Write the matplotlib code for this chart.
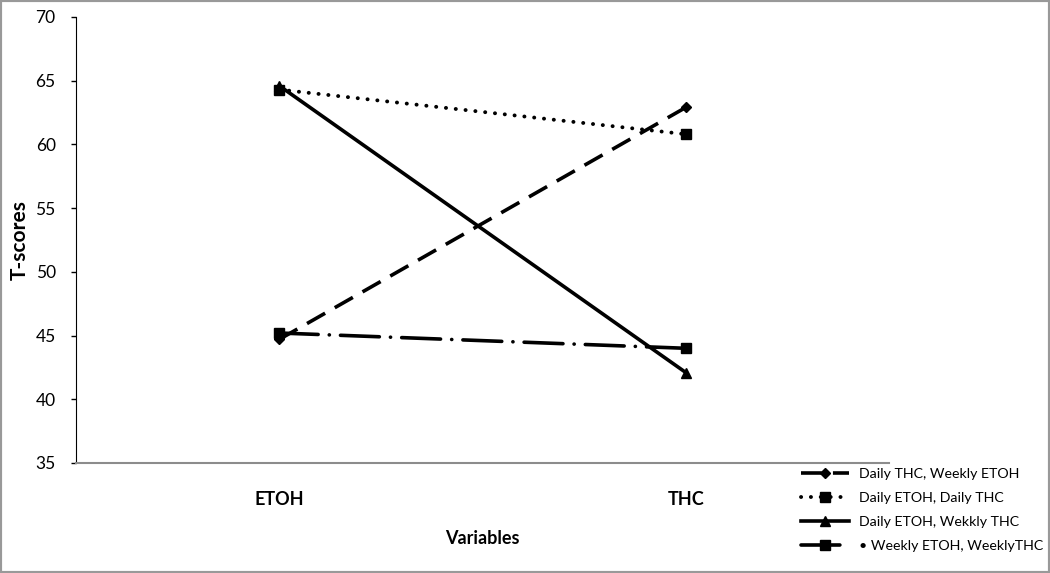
import numpy as np
import matplotlib.pyplot as plt
from matplotlib.patches import Rectangle

plt.rcParams['font.family'] = ['Lato', 'DejaVu Sans']
plt.rcParams['lines.scale_dashes'] = False

categories = ["ETOH", "THC"]
series_names = ["Daily THC, Weekly ETOH", "Daily ETOH, Daily THC",
                "Daily ETOH, Wekkly THC", "\u2022 Weekly ETOH, WeeklyTHC"]
daily_thc_weekly_etoh = [44.7, 62.9]
daily_etoh_daily_thc = [64.3, 60.8]
daily_etoh_weekly_thc = [64.6, 42.1]
weekly_etoh_weekly_thc = [45.2, 44.0]
yticks = [35, 40, 45, 50, 55, 60, 65, 70]

fig = plt.figure(figsize=(10.5, 5.73), dpi=100)
ax = fig.add_axes([0.0724, 0.192, 0.7743, 0.7784])

x = np.arange(len(categories)) + 0.5

ax.plot(x, daily_thc_weekly_etoh, color='black', lw=2.6, linestyle=(0, (15, 8)),
        marker='D', markersize=5.5, label=series_names[0])
ax.plot(x, daily_etoh_daily_thc, color='black', lw=2.8, linestyle=(0, (0.1, 7)),
        dash_capstyle='round', marker='s', markersize=6.5, label=series_names[1])
ax.plot(x, daily_etoh_weekly_thc, color='black', lw=2.6, linestyle='-',
        marker='^', markersize=7.5, label=series_names[2])
ax.plot(x, weekly_etoh_weekly_thc, color='black', lw=2.6,
        linestyle=(0, (28, 8, 0.1, 8)), dash_capstyle='round',
        marker='s', markersize=7.5, label=series_names[3])

ax.set_xlim(0, 2)
ax.set_ylim(35, 70)
ax.set_yticks(yticks)
ax.set_xticks(x)
ax.set_xticklabels(categories, fontweight='bold', fontsize=13)
ax.tick_params(axis='x', length=0, pad=20)
ax.tick_params(axis='y', direction='out', length=3.6, width=1, labelsize=12.5, pad=11)

for s in ['top', 'right']:
    ax.spines[s].set_visible(False)
ax.spines['left'].set_color('black')
ax.spines['bottom'].set_color('#8c8c8c')
ax.spines['bottom'].set_linewidth(1.5)

ax.set_ylabel("T-scores", fontweight='bold', fontsize=15, labelpad=4)
ax.set_xlabel("Variables", fontweight='bold', fontsize=13, labelpad=16)

fig.legend(loc='upper left', bbox_to_anchor=(0.757, 0.193), frameon=False,
           fontsize=10.2, handlelength=3.4, handletextpad=0.7, labelspacing=0.85,
           borderaxespad=0)

fig.patches.append(Rectangle((0, 0), 1, 1, transform=fig.transFigure, fill=False,
                             edgecolor='#999999', lw=3))

fig.savefig("out.png", dpi=100)
